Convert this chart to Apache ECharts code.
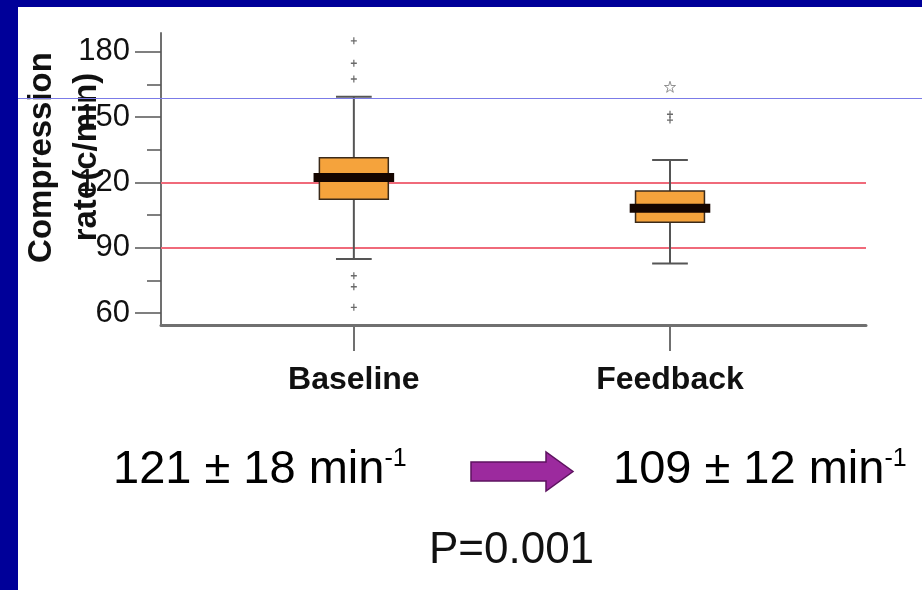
<!DOCTYPE html>
<html>
<head>
<meta charset="utf-8">
<script src="https://cdn.jsdelivr.net/npm/echarts@6/dist/echarts.min.js"></script>
<style>
html,body{margin:0;padding:0;background:#fff;}
#chart{width:922px;height:590px;}
</style>
</head>
<body>
<div id="chart"></div>
<script>
// ---- data ----
const categories = ['Baseline', 'Feedback'];
const whiskerLow  = [84.8, 82.8];
const q1          = [112.2, 101.7];
const median      = [122.2, 108.1];
const q3          = [131.3, 116.0];
const whiskerHigh = [159.3, 130.3];
const baselineOutliers = [185, 174.7, 167.5, 77.1, 72.1, 62.6];
const feedbackOutliers = [151.3, 148.6];
const feedbackExtremes = [163.9];
const yTicks = [60, 90, 120, 150, 180];
const yMinorTicks = [75, 105, 135, 165];
const refLines = [120, 90];
const summaryBefore = '121 ± 18 min';
const summaryAfter = '109 ± 12 min';
const summaryUnitSup = '-1';
const pValueText = 'P=0.001';
const yTitleLines = ['Compression', 'rate(c/min)'];

const FONT = '"Liberation Sans", Arial, Helvetica, sans-serif';
const chart = echarts.init(document.getElementById('chart'));

const BOX_W = 0.218, MED_W = 0.255, CAP_W = 0.113;

function renderBox(params, api) {
  const x = api.value(0);
  const lo = api.coord([x, api.value(1)]);
  const b1 = api.coord([x, api.value(2)]);
  const md = api.coord([x, api.value(3)]);
  const b3 = api.coord([x, api.value(4)]);
  const hi = api.coord([x, api.value(5)]);
  const bw = api.size([BOX_W, 0])[0];
  const mw = api.size([MED_W, 0])[0];
  const cw = api.size([CAP_W, 0])[0];
  const wStyle = {stroke: '#555555', lineWidth: 2};
  return {
    type: 'group',
    children: [
      {type: 'line', shape: {x1: lo[0], y1: lo[1], x2: hi[0], y2: hi[1]}, style: wStyle},
      {type: 'line', shape: {x1: lo[0] - cw / 2, y1: lo[1], x2: lo[0] + cw / 2, y2: lo[1]}, style: wStyle},
      {type: 'line', shape: {x1: hi[0] - cw / 2, y1: hi[1], x2: hi[0] + cw / 2, y2: hi[1]}, style: wStyle},
      {type: 'rect', shape: {x: b3[0] - bw / 2, y: b3[1], width: bw, height: b1[1] - b3[1]},
        style: {fill: '#f5a33c', stroke: '#3a2a1a', lineWidth: 1.5}},
      {type: 'rect', shape: {x: md[0] - mw / 2, y: md[1] - 4.5, width: mw, height: 9},
        style: {fill: '#140500'}}
    ]
  };
}

const boxData = categories.map((c, i) => [i, whiskerLow[i], q1[i], median[i], q3[i], whiskerHigh[i]]);
const plusPath = 'path://M2,0 L3,0 L3,2 L5,2 L5,3 L3,3 L3,5 L2,5 L2,3 L0,3 L0,2 L2,2 Z';
const starPath = 'path://M50,0 L61,35 L98,35 L68,57 L79,91 L50,70 L21,91 L32,57 L2,35 L39,35 Z';

const supRich = {
  a: {fontFamily: FONT, fontSize: 47, color: '#111'},
  s: {fontFamily: FONT, fontSize: 25, color: '#111', verticalAlign: 'top'}
};

const option = {
  backgroundColor: '#ffffff',
  animation: false,
  grid: {left: 161, right: 56, top: 33, bottom: 265, containLabel: false, outerBoundsMode: 'none'},
  xAxis: {
    type: 'value', min: -0.61, max: 1.62,
    axisLine: {show: true, onZero: false, lineStyle: {color: '#707070', width: 3}},
    axisTick: {show: true, customValues: [0, 1], length: 26, lineStyle: {color: '#707070', width: 2}},
    axisLabel: {show: true, customValues: [0, 1], margin: 39,
      formatter: v => categories[Math.round(v)] || '',
      fontFamily: FONT, fontSize: 32, fontWeight: 'bold', color: '#111'},
    splitLine: {show: false}
  },
  yAxis: [{
    type: 'value', min: 54.5, max: 188.6,
    axisLine: {show: true, onZero: false, lineStyle: {color: '#707070', width: 2}},
    axisTick: {show: true, customValues: yTicks, length: 26, lineStyle: {color: '#555', width: 1.5}},
    axisLabel: {show: true, customValues: yTicks, margin: 31, fontFamily: FONT, fontSize: 31, color: '#111'},
    splitLine: {show: false}
  }, {
    type: 'value', min: 54.5, max: 188.6, position: 'left',
    axisLine: {show: false, onZero: false},
    axisTick: {show: true, customValues: yMinorTicks, length: 14, lineStyle: {color: '#555', width: 1.5}},
    axisLabel: {show: false},
    splitLine: {show: false}
  }],
  series: [
    {
      type: 'scatter', data: [], z: 1, silent: true,
      markLine: {
        silent: true, symbol: 'none', animation: false,
        label: {show: false},
        lineStyle: {color: '#f06a7a', width: 2, type: 'solid'},
        emphasis: {disabled: true},
        data: refLines.map(v => ({yAxis: v}))
      }
    },
    {type: 'custom', renderItem: renderBox, data: boxData, z: 5, silent: true,
      encode: {x: 0, y: [1, 2, 3, 4, 5]}},
    {type: 'scatter', z: 6, silent: true, symbol: plusPath, symbolSize: [6, 7],
      itemStyle: {color: '#444'},
      data: baselineOutliers.map(v => [0, v]).concat(feedbackOutliers.map(v => [1, v]))},
    {type: 'scatter', z: 6, silent: true, symbol: starPath, symbolSize: 11,
      itemStyle: {color: 'rgba(0,0,0,0)', borderColor: '#777', borderWidth: 1},
      data: feedbackExtremes.map(v => [1, v])}
  ],
  graphic: [
    {type: 'rect', left: 0, top: 0, shape: {width: 18, height: 590}, style: {fill: '#000099'}, z: 100},
    {type: 'rect', left: 0, top: 0, shape: {width: 922, height: 7}, style: {fill: '#000099'}, z: 100},
    {type: 'text', x: 42, y: 157.5, rotation: Math.PI / 2, z: 50,
      style: {text: yTitleLines[0], font: 'bold 33px ' + FONT, fill: '#111', align: 'center', verticalAlign: 'middle'}},
    {type: 'text', x: 87, y: 157, rotation: Math.PI / 2, z: 50,
      style: {text: yTitleLines[1], font: 'bold 33px ' + FONT, fill: '#111', align: 'center', verticalAlign: 'middle'}},
    {type: 'text', x: 113, y: 470, z: 50,
      style: {text: '{a|' + summaryBefore + '}{s|' + summaryUnitSup + '}', verticalAlign: 'middle', align: 'left', rich: supRich}},
    {type: 'text', x: 613, y: 470, z: 50,
      style: {text: '{a|' + summaryAfter + '}{s|' + summaryUnitSup + '}', verticalAlign: 'middle', align: 'left', rich: supRich}},
    {type: 'polygon', z: 50,
      shape: {points: [[471, 462], [546, 462], [546, 452], [573, 471.5], [546, 491], [546, 481], [471, 481]]},
      style: {fill: '#9c2a9e', stroke: '#5e1360', lineWidth: 1.5}},
    {type: 'text', x: 511.5, y: 551, z: 50,
      style: {text: pValueText, font: '44px ' + FONT, fill: '#111', align: 'center', verticalAlign: 'middle'}},
    {type: 'line', z: 120, shape: {x1: 18, y1: 98.5, x2: 922, y2: 98.5}, style: {stroke: '#7b7be8', lineWidth: 1}}
  ]
};
chart.setOption(option);
</script>
</body>
</html>
